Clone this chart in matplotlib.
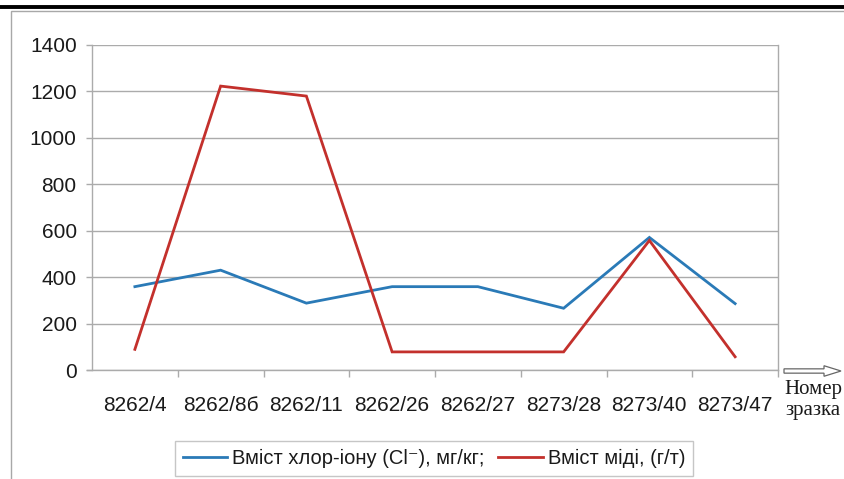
import matplotlib
matplotlib.use("Agg")
import matplotlib.pyplot as plt
from matplotlib.patches import Rectangle, FancyArrow
from matplotlib.lines import Line2D
import numpy as np

samples = ["8262/4", "8262/8б", "8262/11", "8262/26", "8262/27",
           "8273/28", "8273/40", "8273/47"]
chloride = [359, 430, 288, 359, 359, 266, 571, 286]
copper = [89, 1223, 1180, 78, 78, 78, 558, 57]
y_ticks = [0, 200, 400, 600, 800, 1000, 1200, 1400]

label_cl = "Вміст хлор-іону (Cl⁻), мг/кг;"
label_cu = "Вміст міді, (г/т)"
axis_note = "Номер\nзразка"

W, H = 844, 479
plt.rcParams["font.family"] = ["Liberation Sans", "DejaVu Sans"]

fig = plt.figure(figsize=(W / 100, H / 100), dpi=100)
fig.patch.set_facecolor("white")


def fx(px):
    return px / W


def fy(py):
    return 1 - py / H


# page header rule and chart frame
fig.add_artist(Line2D([0, 1], [fy(6.5), fy(6.5)], color="black", lw=2.8,
                      transform=fig.transFigure))
fig.add_artist(Rectangle((fx(10.5), fy(490)), fx(900), fy(10.5) - fy(490),
                         transform=fig.transFigure, fill=False,
                         edgecolor="#a8a8a8", lw=1.0))

left, right, top, bottom = 92, 778, 45, 370
ax = fig.add_axes([fx(left), fy(bottom), fx(right - left), fy(top) - fy(bottom)])

x = np.arange(len(samples))
blue = "#2a7ab7"
red = "#c3302c"
ax.plot(x, chloride, color=blue, lw=2.0, solid_joinstyle="miter", label=label_cl)
ax.plot(x, copper, color=red, lw=2.0, solid_joinstyle="miter", label=label_cu)

ax.set_xlim(-0.5, len(samples) - 0.5)
ax.set_ylim(0, 1400)
ax.set_yticks(y_ticks)
ax.set_yticklabels([str(v) for v in y_ticks])
ax.set_xticks(x)
ax.set_xticklabels(samples)
ax.set_xticks(np.arange(0.5, len(samples)), minor=True)

grid_c = "#ababab"
ax.grid(axis="y", color=grid_c, lw=1.0)
ax.set_axisbelow(True)
for side in ["left", "bottom", "right"]:
    ax.spines[side].set_color(grid_c)
    ax.spines[side].set_linewidth(1.0)
ax.spines["top"].set_visible(False)

ax.tick_params(axis="y", length=4, width=1.0, color=grid_c, pad=7,
               labelsize=15, labelcolor="#1a1a1a")
ax.tick_params(axis="x", which="major", length=0, pad=19,
               labelsize=15, labelcolor="#1a1a1a")
ax.tick_params(axis="x", which="minor", length=5, width=1.0, color=grid_c)
ax.spines["bottom"].set_bounds(-0.5 - 5 / 85.75, len(samples) - 0.5)

# hollow arrow and axis caption
fig.add_artist(FancyArrow(fx(784), fy(371), fx(57), 0, width=0.009,
                          head_width=0.022, head_length=fx(17),
                          length_includes_head=True, transform=fig.transFigure,
                          facecolor="white", edgecolor="#666666", lw=0.9))
fig.text(fx(813), fy(400), axis_note, ha="center", va="center",
         family=["Liberation Serif", "DejaVu Serif"], fontsize=15,
         color="#1a1a1a", linespacing=1.2)

leg = fig.legend(loc="center", bbox_to_anchor=(fx(434), fy(458.5)), ncol=2,
                 fontsize=14.5, frameon=True, fancybox=False,
                 edgecolor="#b8b8b8", handlelength=2.2, handletextpad=0.25,
                 columnspacing=0.7, borderpad=0.4, labelcolor="#1a1a1a")
leg.get_frame().set_linewidth(1.0)

fig.savefig("out.png", dpi=100, facecolor="white")
